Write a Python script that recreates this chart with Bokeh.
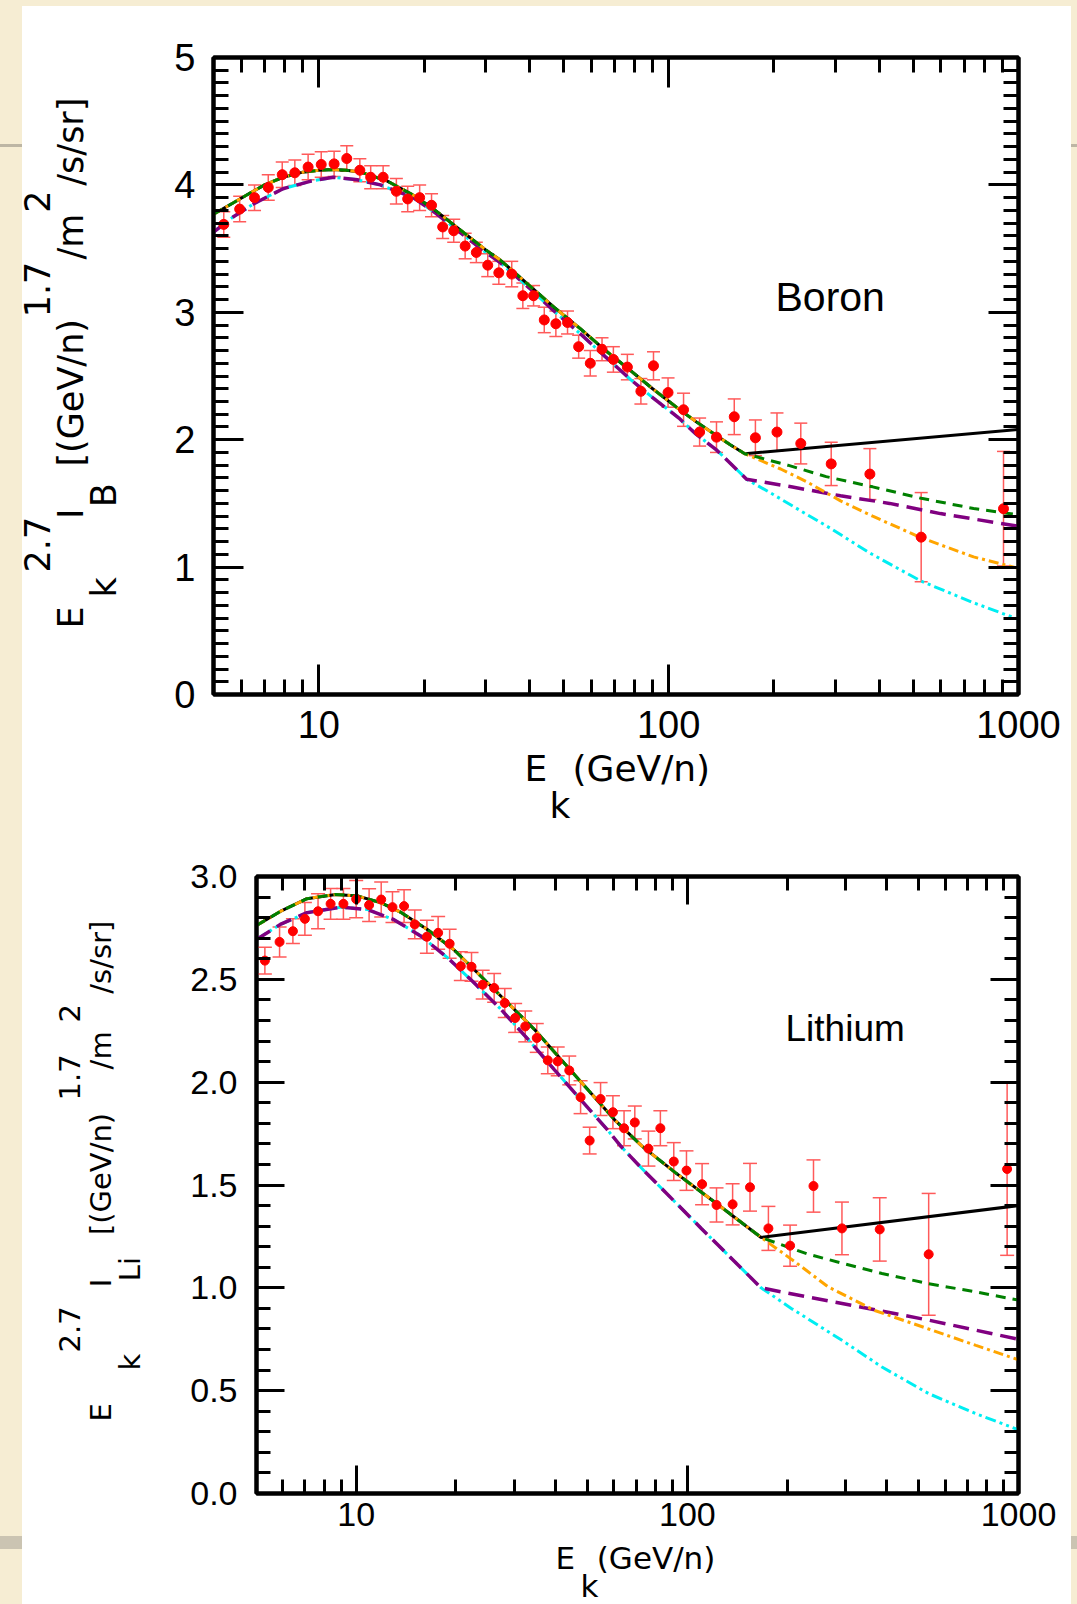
import math
from bokeh.plotting import figure
from bokeh.models import (ColumnDataSource, Whisker, TeeHead, FixedTicker, LinearAxis, LogAxis,
                          PrintfTickFormatter, CustomJSTickFormatter, Label, Range1d)
from bokeh.layouts import column
from bokeh.embed import file_html
from bokeh.resources import INLINE

# ---------------- Boron data (E_k in GeV/n, E^2.7 I) ----------------
E_B = [5.35, 5.94, 6.55, 7.17, 7.86, 8.54, 9.32, 10.16, 11.06, 12.02,
       13.1, 14.07, 15.27, 16.66, 17.95, 19.42, 21.0, 22.6, 24.3, 26.2,
       28.2, 30.4, 32.7, 35.6, 38.3, 41.1, 44.1, 47.6, 51.4, 55.3,
       59.7, 64.5, 69.5, 76.2, 83.3, 90.5, 99.6, 110.3, 122.6, 137,
       154, 177, 204, 238.6, 291.5, 376, 527, 906]
V_B = [3.69, 3.81, 3.90, 3.98, 4.08, 4.095, 4.14, 4.16, 4.165, 4.207,
       4.115, 4.06, 4.06, 3.95, 3.89, 3.90, 3.84, 3.67, 3.64, 3.52,
       3.47, 3.37, 3.31, 3.30, 3.13, 3.13, 2.94, 2.91, 2.92, 2.73,
       2.60, 2.71, 2.63, 2.57, 2.38, 2.58, 2.37, 2.235, 2.06, 2.02,
       2.18, 2.015, 2.06, 1.97, 1.81, 1.73, 1.235, 1.458]
ERR_B = [0.1, 0.1, 0.1, 0.1, 0.1, 0.1, 0.1, 0.1, 0.1, 0.1,
         0.09, 0.09, 0.09, 0.1, 0.1, 0.1, 0.09, 0.09, 0.09, 0.1,
         0.08, 0.09, 0.09, 0.1, 0.1, 0.08, 0.1, 0.1, 0.09, 0.09,
         0.1, 0.09, 0.1, 0.1, 0.1, 0.11, 0.115, 0.13, 0.11, 0.12,
         0.14, 0.14, 0.15, 0.16, 0.17, 0.2, 0.35, 0.45]

# model curves, common part below the break
B_UP_E = [5, 5.7, 6.4, 7, 7.9, 9, 10, 11, 12, 13.2, 15.7, 18.6, 21.3, 25, 30, 33, 40, 47, 56, 66,
          78, 90, 107, 120, 134, 150, 165]
B_UP_V = [3.77, 3.86, 3.94, 4.00, 4.06, 4.10, 4.115, 4.12, 4.115, 4.10, 4.03, 3.92, 3.81, 3.66, 3.49,
          3.41, 3.21, 3.04, 2.87, 2.70, 2.54, 2.40, 2.24, 2.14, 2.05, 1.96, 1.89]
B_LO_E = [5, 5.7, 6.5, 7.9, 9.5, 11, 12.9, 15, 18.6, 21.3, 25, 30, 33, 40, 47, 56, 66, 78, 90, 107,
          119, 137, 152, 167]
B_LO_V = [3.63, 3.75, 3.85, 3.97, 4.03, 4.06, 4.04, 4.00, 3.90, 3.79, 3.64, 3.47, 3.39, 3.19, 3.01,
          2.83, 2.65, 2.47, 2.33, 2.17, 2.05, 1.92, 1.80, 1.69]
# high-energy tails
B_BLACK_E, B_BLACK_V = [1000], [2.08]
B_GREEN_E, B_GREEN_V = [219, 282, 383, 527, 744, 1000], [1.80, 1.71, 1.63, 1.54, 1.46, 1.41]
B_ORANGE_E, B_ORANGE_V = [209, 248, 310, 383, 527, 744, 1000], [1.77, 1.67, 1.52, 1.40, 1.23, 1.08, 0.99]
B_PURPLE_E, B_PURPLE_V = [224, 310, 428, 598, 1000], [1.63, 1.56, 1.50, 1.42, 1.32]
B_CYAN_E, B_CYAN_V = [199, 239, 292, 376, 527, 744, 1000], [1.57, 1.44, 1.30, 1.11, 0.89, 0.72, 0.59]

# ---------------- Lithium data ----------------
E_LI = [5.30, 5.87, 6.44, 7.0, 7.67, 8.37, 9.15, 10.0, 10.94, 11.9,
        12.87, 13.95, 15.03, 16.35, 17.68, 19.15, 20.7, 22.3, 24.1, 26.1,
        28.1, 30.2, 32.4, 35.1, 37.9, 40.6, 44.0, 47.6, 50.7, 54.7,
        59.6, 64.4, 69.4, 76.3, 82.9, 91.0, 99.4, 110.8, 122.5, 137,
        154.6, 175.7, 204.3, 240.4, 293, 381, 535.5, 924]
V_LI = [2.591, 2.682, 2.734, 2.794, 2.831, 2.867, 2.867, 2.89, 2.861, 2.888,
        2.851, 2.856, 2.767, 2.707, 2.726, 2.673, 2.564, 2.561, 2.474, 2.458,
        2.385, 2.312, 2.271, 2.215, 2.106, 2.101, 2.057, 1.927, 1.716, 1.918,
        1.854, 1.776, 1.804, 1.677, 1.776, 1.614, 1.57, 1.504, 1.403, 1.406,
        1.489, 1.289, 1.205, 1.495, 1.289, 1.284, 1.163, 1.578]
ERR_LI = [0.065, 0.073, 0.06, 0.08, 0.085, 0.075, 0.075, 0.09, 0.08, 0.085,
          0.075, 0.08, 0.07, 0.08, 0.08, 0.07, 0.07, 0.07, 0.07, 0.07,
          0.07, 0.07, 0.075, 0.07, 0.065, 0.07, 0.07, 0.08, 0.065, 0.08,
          0.08, 0.085, 0.08, 0.085, 0.085, 0.092, 0.096, 0.10, 0.083, 0.10,
          0.116, 0.107, 0.10, 0.127, 0.128, 0.154, 0.296, 0.42]

L_UP_E = [5, 5.9, 7.1, 8.67, 10.1, 11.9, 13.7, 16.4, 19.7, 23.8, 28.7, 34.6, 41.6, 50.1, 60.3, 72.8,
          92, 122.5, 167]
L_UP_V = [2.762, 2.83, 2.892, 2.913, 2.905, 2.872, 2.824, 2.742, 2.645, 2.515, 2.385, 2.255, 2.109,
          1.963, 1.817, 1.69, 1.56, 1.41, 1.245]
L_LO_E = [5, 5.9, 7.1, 9.0, 10.8, 13.0, 15.7, 18.9, 22.7, 27.4, 33.1, 39.7, 47.7, 57.4, 63.1, 72.9,
          110, 167]
L_LO_V = [2.694, 2.767, 2.824, 2.851, 2.84, 2.79, 2.71, 2.604, 2.483, 2.353, 2.207, 2.06, 1.914,
          1.768, 1.687, 1.58, 1.29, 1.0]
L_BLACK_E, L_BLACK_V = [1000], [1.40]
L_GREEN_E, L_GREEN_V = [230, 293, 387, 535, 744, 1000], [1.165, 1.12, 1.07, 1.02, 0.98, 0.94]
L_ORANGE_E, L_ORANGE_V = [210, 266, 368, 535, 744, 1000], [1.13, 1.005, 0.89, 0.80, 0.72, 0.65]
L_PURPLE_E, L_PURPLE_V = [230, 330, 535, 744, 1000], [0.956, 0.908, 0.843, 0.794, 0.75]
L_CYAN_E, L_CYAN_V = [206, 293, 387, 535, 744, 1000], [0.90, 0.745, 0.615, 0.486, 0.388, 0.31]

# ---------------- axis ticks ----------------
X_MAJOR = [10, 100, 1000]
X_MINOR = [5, 6, 7, 8, 9, 20, 30, 40, 50, 60, 70, 80, 90, 200, 300, 400, 500, 600, 700, 800, 900]
B_Y_MAJOR = [0, 1, 2, 3, 4, 5]
B_Y_MINOR = [i / 10 for i in range(0, 51)]
L_Y_MAJOR = [0, 0.5, 1.0, 1.5, 2.0, 2.5, 3.0]
L_Y_MINOR = [i / 10 for i in range(0, 31)]

BEIGE = "#f6edd3"
LABEL_FONT = "DejaVu Sans"
TICK_FONT = "Liberation Sans"

# DejaVu Sans advance widths (em) used to space label pieces
ADV = {"E": 0.632, "k": 0.579, "2": 0.636, ".": 0.318, "7": 0.636, "I": 0.295, "B": 0.686,
       "[": 0.390, "(": 0.390, "G": 0.775, "e": 0.615, "V": 0.684, "/": 0.337, "n": 0.634,
       ")": 0.390, "1": 0.636, "m": 0.974, "s": 0.521, "r": 0.411, "]": 0.390, "L": 0.553,
       "i": 0.278}
SPACES = [("\u2003", 1.0), ("\u2002", 0.5), ("\u2009", 0.2), ("\u200a", 0.1)]


def spacer(px, size):
    out, used = "", 0.0
    for ch, w in SPACES:
        n = int((px - used) // (w * size))
        out += ch * n
        used += n * w * size
    return out, used


def build_row(pieces, size):
    s, cur = "", 0.0
    for txt, off in pieces:
        if off > cur:
            sp, used = spacer(off - cur, size)
            s += sp
            cur += used
        s += txt
        cur += sum(ADV.get(c, 0.6) for c in txt) * size
    return s


def style_axis(ax, ticker, fmt, size, standoff, maj, mnr):
    ax.ticker = ticker
    ax.formatter = fmt
    ax.major_tick_in = maj
    ax.major_tick_out = 0
    ax.minor_tick_in = mnr
    ax.minor_tick_out = 0
    ax.major_tick_line_width = 3
    ax.minor_tick_line_width = 3
    ax.axis_line_width = 4
    ax.major_label_text_font = TICK_FONT
    ax.major_label_text_font_size = f"{size}px"
    ax.major_label_standoff = standoff
    ax.major_label_text_color = "black"


def add_text(p, place, text, x, y, size, angle=0.0, font=LABEL_FONT):
    # x, y: canvas position of the text start on its baseline; shift compensates the
    # renderer's baseline offset
    corr = 0.36 * size
    if angle == 0.0:
        y = y - corr
    else:
        x = x - corr
    lab = Label(x=x, y=y, x_units="canvas", y_units="canvas", text=text,
                text_font=font, text_font_size=f"{size}px", angle=angle,
                text_align="left", text_baseline="alphabetic", text_color="black")
    if place == "center":
        p.add_layout(lab)
    else:
        p.add_layout(lab, place)


def make_panel(w, h, borders, y_end, y_major, y_minor, yfmt, tick_size, maj, mnr,
               ystand, xstand, E, V, ERR, up_e, up_v, lo_e, lo_v, tails, dot_size, cap):
    p = figure(width=w, height=h, x_axis_type="log", x_range=Range1d(5, 1000),
               y_range=Range1d(0, y_end), output_backend="svg", toolbar_location=None)
    p.min_border_left, p.min_border_right, p.min_border_top, p.min_border_bottom = borders
    p.background_fill_color = "white"
    p.border_fill_alpha = 0.0
    p.outline_line_color = "black"
    p.outline_line_width = 4
    p.grid.visible = False

    xt = FixedTicker(ticks=X_MAJOR, minor_ticks=X_MINOR)
    yt = FixedTicker(ticks=y_major, minor_ticks=y_minor)
    style_axis(p.xaxis[0], xt, PrintfTickFormatter(format="%d"), tick_size, xstand, maj, mnr)
    style_axis(p.yaxis[0], yt, PrintfTickFormatter(format=yfmt), tick_size, ystand, maj, mnr)
    blank = CustomJSTickFormatter(code="return ''")
    top = LogAxis()
    style_axis(top, FixedTicker(ticks=X_MAJOR, minor_ticks=X_MINOR), blank, 1, 0, maj, mnr)
    p.add_layout(top, "above")
    right = LinearAxis()
    style_axis(right, FixedTicker(ticks=y_major, minor_ticks=y_minor), blank, 1, 0, maj, mnr)
    p.add_layout(right, "right")

    (bk_e, bk_v), (gr_e, gr_v), (or_e, or_v), (pu_e, pu_v), (cy_e, cy_v) = tails
    # lower group
    p.line(lo_e + cy_e, lo_v + cy_v, line_color="#00eef2", line_width=3,
           line_dash="11 4 3 4 3 4")
    p.line(lo_e + pu_e, lo_v + pu_v, line_color="#800080", line_width=3.5, line_dash="16 8")
    # upper group
    p.line(up_e + bk_e, up_v + bk_v, line_color="black", line_width=3)
    p.line(up_e + or_e, up_v + or_v, line_color="#ffa500", line_width=3, line_dash="10 4 3 4")
    p.line(up_e + gr_e, up_v + gr_v, line_color="#008000", line_width=3, line_dash="10 7")

    src = ColumnDataSource(dict(x=E, y=V, lo=[v - e for v, e in zip(V, ERR)],
                                hi=[v + e for v, e in zip(V, ERR)]))
    ec = "#ff5a5a"
    p.add_layout(Whisker(source=src, base="x", lower="lo", upper="hi", line_color=ec,
                         line_width=1.5,
                         upper_head=TeeHead(size=cap, line_color=ec, line_width=1.5),
                         lower_head=TeeHead(size=cap, line_color=ec, line_width=1.5)))
    p.scatter("x", "y", source=src, size=dot_size, color="#ff0000")
    return p


def add_rows(p, rows, ox, oy, size):
    for bx, sy, pieces in rows:
        first = pieces[0][1]
        rel = [(t, o - first) for t, o in pieces]
        add_text(p, "left", build_row(rel, size), bx - ox, sy - first - oy, size, R)


R = math.pi / 2

# ---------------- top panel: Boron (page x 0..1077, y 0..838) ----------------
OX1, OY1 = 0, 0
p1 = make_panel(1077, 838, (213, 59, 57, 144), 5, B_Y_MAJOR, B_Y_MINOR, "%d", 38, 30, 15,
                18, 16, E_B, V_B, ERR_B, B_UP_E, B_UP_V, B_LO_E, B_LO_V,
                [(B_BLACK_E, B_BLACK_V), (B_GREEN_E, B_GREEN_V), (B_ORANGE_E, B_ORANGE_V),
                 (B_PURPLE_E, B_PURPLE_V), (B_CYAN_E, B_CYAN_V)], 10, 13)
S1 = 35
Y0 = 628  # page y where the y-axis title starts (bottom)
rows1 = [(83, Y0, [("E", 0), ("I", 113), ("[(GeV/n)", 163), ("/m", 369), ("/s/sr]", 446)]),
         (116, Y0, [("k", 31), ("B", 123)]),
         (50, Y0, [("2.7", 56), ("1.7", 314), ("2", 419)])]
add_rows(p1, rows1, OX1, OY1, S1)
S1X = 36
add_text(p1, "below", build_row([("E", 0), ("(GeV/n)", 49)], S1X), 524 - OX1, 781 - OY1, S1X)
add_text(p1, "right", "k", 549 - OX1, 818 - OY1, S1X)
add_text(p1, "center", "Boron", 775 - OX1, 311 - OY1, 41, 0.0, TICK_FONT)
p1.margin = (0, 0, 0, 0)

# ---------------- bottom panel: Lithium (page x 43..1077, y 838..1604) ----------------
OX2, OY2 = 43, 838
p2 = make_panel(1034, 766, (213, 59, 38, 111), 3.0, L_Y_MAJOR, L_Y_MINOR, "%.1f", 34, 28, 14,
                19, 9, E_LI, V_LI, ERR_LI, L_UP_E, L_UP_V, L_LO_E, L_LO_V,
                [(L_BLACK_E, L_BLACK_V), (L_GREEN_E, L_GREEN_V), (L_ORANGE_E, L_ORANGE_V),
                 (L_PURPLE_E, L_PURPLE_V), (L_CYAN_E, L_CYAN_V)], 9, 14)
S2 = 29
Y1 = 1421
rows2 = [(111, Y1, [("E", 0), ("I", 136), ("[(GeV/n)", 187), ("/m", 355), ("/s/sr]", 428)]),
         (140, Y1, [("k", 51), ("Li", 142)]),
         (80, Y1, [("2.7", 69), ("1.7", 322), ("2", 400)])]
add_rows(p2, rows2, OX2, OY2, S2)
S2X = 31
add_text(p2, "below", build_row([("E", 0), ("(GeV/n)", 42)], S2X), 555 - OX2, 1569 - OY2, S2X)
add_text(p2, "right", "k", 580 - OX2, 1597 - OY2, S2X)
add_text(p2, "center", "Lithium", 785 - OX2, 1041 - OY2, 37, 0.0, TICK_FONT)
p2.margin = (0, 0, 0, 43)

bg = ("linear-gradient(#ffffff, #ffffff) 22px 6px / 1049px 1598px no-repeat, "
      "linear-gradient(to bottom, transparent 144px, #bdb6a4 144px, #bdb6a4 147px, "
      "transparent 147px, transparent 1536px, #cbc4b2 1536px, #cbc4b2 1549px, "
      "transparent 1549px), " + BEIGE)
layout = column(p1, p2, spacing=0, styles={"background": bg})

open("out.html", "w").write(file_html(layout, INLINE))
